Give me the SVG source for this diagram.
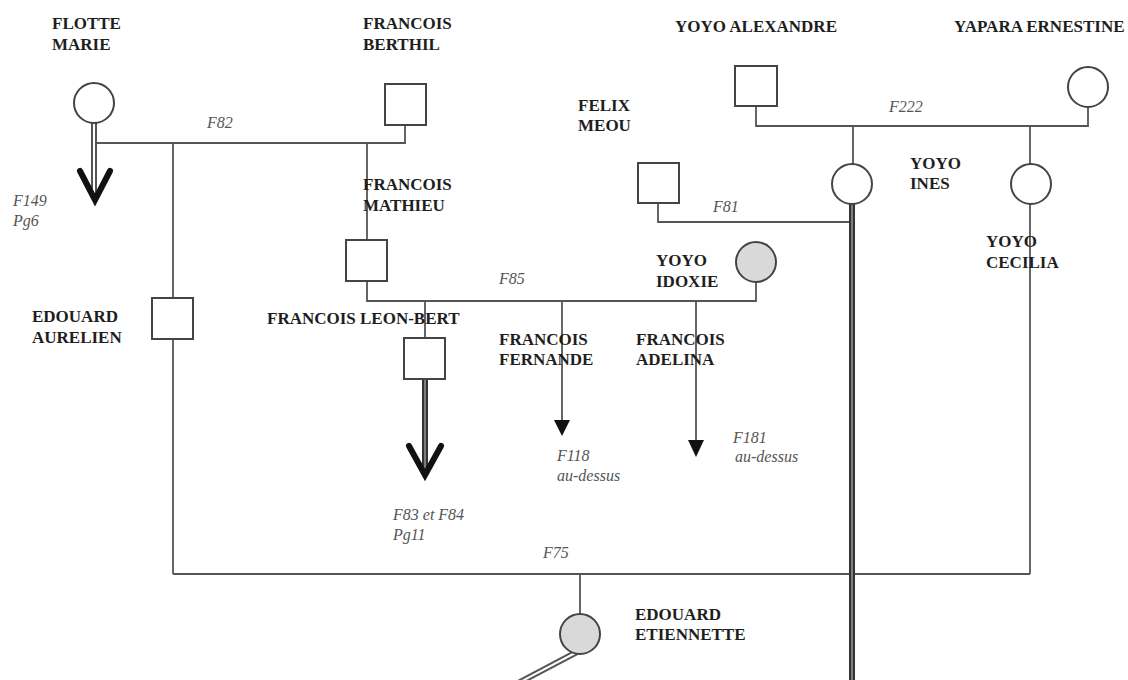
<svg xmlns="http://www.w3.org/2000/svg" width="1128" height="680" viewBox="0 0 1128 680">
<style>
.name{font-family:"Liberation Serif","Times New Roman",serif;font-weight:bold;font-size:17px;fill:#1e1e1e}
.lab{font-family:"Liberation Serif","Times New Roman",serif;font-style:italic;font-size:16px;fill:#555}
.ln{fill:none;stroke:#555;stroke-width:1.8}
.sq{fill:#fff;stroke:#444;stroke-width:2}
.ci{fill:#fff;stroke:#444;stroke-width:2}
.cf{fill:#d9d9d9;stroke:#444;stroke-width:2}
.dbo{fill:none;stroke:#555;stroke-width:6}
.dbi{fill:none;stroke:#fff;stroke-width:2}
.dko{fill:none;stroke:#333;stroke-width:6}
.dki{fill:none;stroke:#999;stroke-width:1.5}
.vee{fill:none;stroke:#111;stroke-width:6;stroke-linejoin:miter;stroke-linecap:round}
.tri{fill:#111}
</style>
<rect width="1128" height="680" fill="#fff"/>
<g id="connectors">
<!-- F82 -->
<path class="ln" d="M96 143 H405 V125"/>
<path class="ln" d="M173 143 V298 M173 339 V574"/>
<path class="ln" d="M367 143 V240"/>
<!-- F85 -->
<path class="ln" d="M367 281 V301 H756 V282"/>
<path class="ln" d="M425 301 V338"/>
<path class="ln" d="M562 301 V422"/>
<path class="tri" d="M554 420 H570 L562 436 Z"/>
<path class="ln" d="M696 301 V442"/>
<path class="tri" d="M688 440 H704 L696 457 Z"/>
<!-- F222 -->
<path class="ln" d="M756 106 V126 H1088 V107"/>
<path class="ln" d="M853 126 V164"/>
<path class="ln" d="M1030 126 V164"/>
<path class="ln" d="M1030 204 V574"/>
<!-- F81 -->
<path class="ln" d="M658 203 V222 H849"/>
<!-- F75 -->
<path class="ln" d="M173 574 H1030"/>
<path class="ln" d="M580 574 V614"/>
<!-- descent lines -->
<path class="dbo" d="M94 123 V198"/>
<path class="dbi" d="M94 123 V196"/>
<path class="vee" d="M80 171 L95 200 L110 171"/>
<path class="dko" d="M425 379 V472"/>
<path class="dki" d="M425 379 V470"/>
<path class="vee" d="M409 446 L425 475 L441 446"/>
<path class="dko" d="M852 203 V690"/>
<path class="dki" d="M852 203 V690"/>
<path class="dbo" d="M577 652 L505 690"/>
<path class="dbi" d="M577 652 L505 690"/>
</g>
<g id="flotte-marie">
<circle class="ci" cx="94" cy="103" r="20"/>
<text class="name" x="52" y="29">FLOTTE</text>
<text class="name" x="52" y="50">MARIE</text>
</g>
<g id="francois-berthil">
<rect class="sq" x="385" y="84" width="41" height="41"/>
<text class="name" x="363" y="29">FRANCOIS</text>
<text class="name" x="363" y="50">BERTHIL</text>
</g>
<g id="yoyo-alexandre">
<rect class="sq" x="735" y="66" width="42" height="40"/>
<text class="name" x="675" y="32">YOYO ALEXANDRE</text>
</g>
<g id="yapara-ernestine">
<circle class="ci" cx="1088" cy="87" r="20"/>
<text class="name" x="954" y="32">YAPARA ERNESTINE</text>
</g>
<g id="felix-meou">
<rect class="sq" x="638" y="163" width="41" height="40"/>
<text class="name" x="578" y="111">FELIX</text>
<text class="name" x="578" y="131">MEOU</text>
</g>
<g id="yoyo-ines">
<circle class="ci" cx="852" cy="184" r="20"/>
<text class="name" x="910" y="169">YOYO</text>
<text class="name" x="910" y="189">INES</text>
</g>
<g id="yoyo-cecilia">
<circle class="ci" cx="1031" cy="184" r="20"/>
<text class="name" x="986" y="247">YOYO</text>
<text class="name" x="986" y="268">CECILIA</text>
</g>
<g id="yoyo-idoxie">
<circle class="cf" cx="756" cy="262" r="20"/>
<text class="name" x="656" y="266">YOYO</text>
<text class="name" x="656" y="287">IDOXIE</text>
</g>
<g id="francois-mathieu">
<rect class="sq" x="346" y="240" width="41" height="41"/>
<text class="name" x="363" y="190">FRANCOIS</text>
<text class="name" x="363" y="211">MATHIEU</text>
</g>
<g id="edouard-aurelien">
<rect class="sq" x="152" y="298" width="41" height="41"/>
<text class="name" x="32" y="322">EDOUARD</text>
<text class="name" x="32" y="343">AURELIEN</text>
</g>
<g id="francois-leon-bert">
<rect class="sq" x="404" y="338" width="41" height="41"/>
<text class="name" x="267" y="324">FRANCOIS LEON-BERT</text>
</g>
<g id="francois-fernande">
<text class="name" x="499" y="345">FRANCOIS</text>
<text class="name" x="499" y="365">FERNANDE</text>
</g>
<g id="francois-adelina">
<text class="name" x="636" y="345">FRANCOIS</text>
<text class="name" x="636" y="365">ADELINA</text>
</g>
<g id="edouard-etiennette">
<circle class="cf" cx="580" cy="634" r="20"/>
<text class="name" x="635" y="620">EDOUARD</text>
<text class="name" x="635" y="640">ETIENNETTE</text>
</g>
<g id="labels">
<text class="lab" x="207" y="128">F82</text>
<text class="lab" x="889" y="112">F222</text>
<text class="lab" x="713" y="212">F81</text>
<text class="lab" x="499" y="284">F85</text>
<text class="lab" x="543" y="558">F75</text>
<text class="lab" x="13" y="206">F149</text>
<text class="lab" x="13" y="226">Pg6</text>
<text class="lab" x="393" y="520">F83 et F84</text>
<text class="lab" x="393" y="540">Pg11</text>
<text class="lab" x="557" y="461">F118</text>
<text class="lab" x="557" y="481">au-dessus</text>
<text class="lab" x="733" y="443">F181</text>
<text class="lab" x="735" y="462">au-dessus</text>
</g>
</svg>
